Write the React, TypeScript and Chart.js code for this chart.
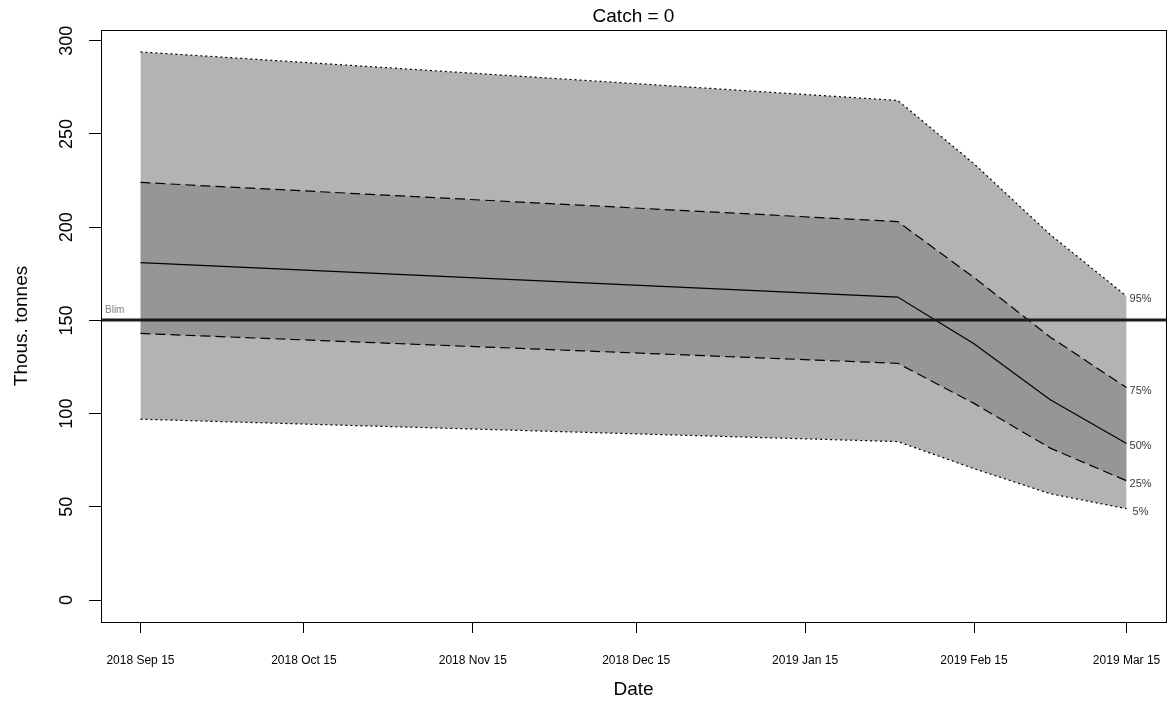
import React, { useEffect, useRef } from "react";
import { Chart, registerables } from "chart.js";

Chart.register(...registerables);

// ---- data ----
const dates = ["2018-09-15", "2019-02-01", "2019-02-15", "2019-03-01", "2019-03-15"];
const p95 = [294, 268, 234, 196, 163];
const p75 = [224, 203, 173, 141, 114];
const p50 = [181, 162.5, 137.5, 107.5, 84];
const p25 = [143, 127, 105.5, 81.5, 64];
const p05 = [97, 85, 70.5, 57, 49];

const tickDates = ["2018-09-15", "2018-10-15", "2018-11-15", "2018-12-15", "2019-01-15", "2019-02-15", "2019-03-15"];
const tickLabels = ["2018 Sep 15", "2018 Oct 15", "2018 Nov 15", "2018 Dec 15", "2019 Jan 15", "2019 Feb 15", "2019 Mar 15"];
const yTicks = [0, 50, 100, 150, 200, 250, 300];
const blim = 150;
const blimLabel = "Blim";
const bandLabels = ["95%", "75%", "50%", "25%", "5%"];
const titleText = "Catch = 0";
const xTitle = "Date";
const yTitle = "Thous. tonnes";

const FONT = '"Liberation Sans", Arial, Helvetica, sans-serif';
const DAY = 86400000;
const origin = Date.parse(dates[0]);
const toDay = (s: string) => (Date.parse(s) - origin) / DAY;

export default function App() {
  const ref = useRef<HTMLCanvasElement | null>(null);

  useEffect(() => {
    if (!ref.current) return;
    const xs = dates.map(toDay);
    const span = xs[xs.length - 1] - xs[0];
    const yMaxData = Math.max(...p95);
    const pts = (arr: number[]) => arr.map((v, i) => ({ x: xs[i], y: v }));

    const lineBase = {
      borderColor: "#000000",
      borderWidth: 1.2,
      pointRadius: 0,
      tension: 0,
    };

    const overlay = {
      id: "overlay",
      afterDatasetsDraw(chart: any) {
        const { ctx, chartArea: a, scales } = chart;
        const y = scales.y;
        const x = scales.x;
        ctx.save();
        ctx.beginPath();
        ctx.rect(a.left, a.top, a.right - a.left, a.bottom - a.top);
        ctx.clip();
        const yb = Math.round(y.getPixelForValue(blim));
        ctx.setLineDash([]);
        ctx.strokeStyle = "#1a1a1a";
        ctx.lineWidth = 3;
        ctx.beginPath();
        ctx.moveTo(a.left, yb);
        ctx.lineTo(a.right, yb);
        ctx.stroke();

        ctx.font = `10px ${FONT}`;
        ctx.fillStyle = "#808080";
        ctx.textAlign = "left";
        ctx.textBaseline = "middle";
        ctx.fillText(blimLabel, a.left + 4, yb - 10);

        // percentile labels at the end of each line
        const lastIdx = xs.length - 1;
        const lx = x.getPixelForValue(xs[lastIdx]) + 14;
        const ends = [p95[lastIdx], p75[lastIdx], p50[lastIdx], p25[lastIdx], p05[lastIdx]];
        ctx.font = `11px ${FONT}`;
        ctx.fillStyle = "#3a3a3a";
        ctx.textAlign = "center";
        ends.forEach((v, i) => {
          ctx.fillText(bandLabels[i], lx, y.getPixelForValue(v) + 3);
        });
        ctx.restore();
      },
      afterDraw(chart: any) {
        const { ctx, chartArea: a, scales } = chart;
        const y = scales.y;
        const x = scales.x;
        ctx.save();
        // box
        ctx.setLineDash([]);
        ctx.strokeStyle = "#000";
        ctx.lineWidth = 1;
        ctx.strokeRect(Math.round(a.left) + 0.5, Math.round(a.top) + 0.5, Math.round(a.right - a.left), Math.round(a.bottom - a.top));

        // y tick labels (rotated like R)
        ctx.fillStyle = "#000";
        ctx.font = `18px ${FONT}`;
        ctx.textAlign = "center";
        ctx.textBaseline = "middle";
        yTicks.forEach((v) => {
          const py = y.getPixelForValue(v);
          ctx.save();
          ctx.translate(67, py);
          ctx.rotate(-Math.PI / 2);
          ctx.fillText(String(v), 0, 0);
          ctx.restore();
        });

        // x tick labels
        ctx.font = `12px ${FONT}`;
        tickDates.forEach((d, i) => {
          const px = x.getPixelForValue(toDay(d));
          ctx.fillText(tickLabels[i], px, 661);
        });

        // axis titles
        ctx.font = `19px ${FONT}`;
        ctx.fillText(xTitle, (a.left + a.right) / 2, 690);
        ctx.save();
        ctx.translate(22, (a.top + a.bottom) / 2);
        ctx.rotate(-Math.PI / 2);
        ctx.fillText(yTitle, 0, 0);
        ctx.restore();

        // main title
        ctx.font = `19px ${FONT}`;
        ctx.fillText(titleText, (a.left + a.right) / 2, 17);
        ctx.restore();
      },
    };

    const chart = new Chart(ref.current, {
      type: "line",
      data: {
        datasets: [
          { ...lineBase, label: "75%", data: pts(p75), borderDash: [10, 5], fill: 3, backgroundColor: "#969696" },
          { ...lineBase, label: "95%", data: pts(p95), borderDash: [2, 3], fill: 4, backgroundColor: "#b3b3b3" },
          { ...lineBase, label: "50%", data: pts(p50), fill: false },
          { ...lineBase, label: "25%", data: pts(p25), borderDash: [10, 5], fill: false },
          { ...lineBase, label: "5%", data: pts(p05), borderDash: [2, 3], fill: false },
        ],
      },
      options: {
        animation: false,
        responsive: true,
        maintainAspectRatio: false,
        layout: { padding: { left: 0, right: 5, top: 30, bottom: 0 } },
        plugins: {
          legend: { display: false },
          tooltip: { enabled: false },
          title: { display: false },
          filler: { drawTime: "beforeDatasetsDraw" },
        },
        scales: {
          x: {
            type: "linear",
            min: xs[0] - span * 0.04,
            max: xs[xs.length - 1] + span * 0.04,
            afterBuildTicks: (s: any) => {
              s.ticks = tickDates.map((d) => ({ value: toDay(d) }));
            },
            afterFit: (s: any) => {
              s.height = 98;
            },
            ticks: { display: false },
            grid: { display: true, drawOnChartArea: false, drawTicks: true, tickLength: 11, color: "#000", lineWidth: 1 },
            border: { display: false },
          },
          y: {
            type: "linear",
            min: -yMaxData * 0.04,
            max: yMaxData * 1.04,
            afterBuildTicks: (s: any) => {
              s.ticks = yTicks.map((v) => ({ value: v }));
            },
            afterFit: (s: any) => {
              s.width = 101;
            },
            ticks: { display: false },
            grid: { display: true, drawOnChartArea: false, drawTicks: true, tickLength: 12, color: "#000", lineWidth: 1 },
            border: { display: false },
          },
        },
      },
      plugins: [overlay],
    });
    return () => chart.destroy();
  }, []);

  return (
    <div style={{ position: "fixed", left: 0, top: 0, width: 1171, height: 720, background: "#fff" }}>
      <canvas ref={ref} />
    </div>
  );
}
